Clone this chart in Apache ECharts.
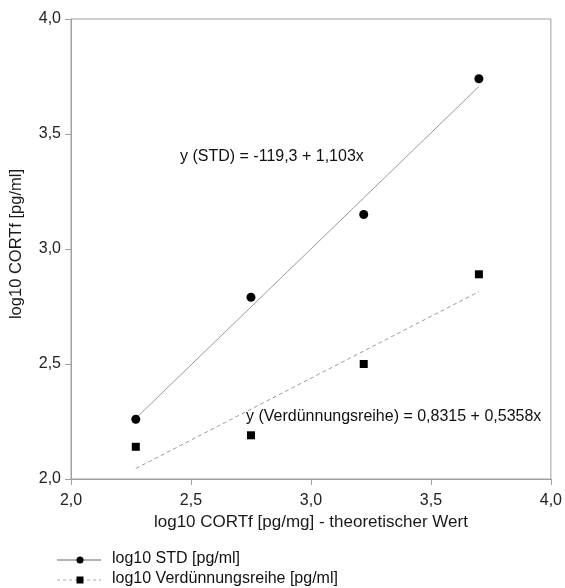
<!DOCTYPE html>
<html><head><meta charset="utf-8">
<script src="https://cdn.jsdelivr.net/npm/echarts@6/dist/echarts.min.js"></script>
<style>html,body{margin:0;padding:0;background:#fff}#c{width:565px;height:588px}</style>
</head><body><div id="c"></div>
<script>
const xValues = [2.27, 2.75, 3.22, 3.70];
const stdValues = [2.26, 2.79, 3.15, 3.74];
const verdValues = [2.14, 2.19, 2.50, 2.89];
const xTicks = [2.0, 2.5, 3.0, 3.5, 4.0];
const yTicks = [2.0, 2.5, 3.0, 3.5, 4.0];
const eqStd = 'y (STD) = -119,3 + 1,103x';
const eqVerd = 'y (Verdünnungsreihe) = 0,8315 + 0,5358x';
const legendNames = ['log10 STD [pg/ml]', 'log10 Verdünnungsreihe [pg/ml]'];

function fit(xs, ys) {
  const n = xs.length;
  const mx = xs.reduce((a, b) => a + b, 0) / n;
  const my = ys.reduce((a, b) => a + b, 0) / n;
  let sxy = 0, sxx = 0;
  for (let i = 0; i < n; i++) { sxy += (xs[i] - mx) * (ys[i] - my); sxx += (xs[i] - mx) ** 2; }
  const b = sxy / sxx, a = my - b * mx;
  const x0 = Math.min(...xs), x1 = Math.max(...xs);
  return [[x0, a + b * x0], [x1, a + b * x1]];
}
const pair = (xs, ys) => xs.map((x, i) => [x, ys[i]]);
const fmt = v => v.toFixed(1).replace('.', ',');
const font = 'Liberation Sans, Arial, sans-serif';

const chart = echarts.init(document.getElementById('c'));
chart.setOption({
  animation: false,
  grid: { left: 70, right: 14, top: 19, bottom: 109, show: true, borderColor: '#a0a0a0', borderWidth: 1 },
  xAxis: {
    type: 'value', min: 2, max: 4, interval: 0.5,
    name: 'log10 CORTf [pg/mg] - theoretischer Wert', nameLocation: 'middle', nameGap: 34,
    nameTextStyle: { fontFamily: font, fontSize: 17, color: '#1a1a1a' },
    axisLine: { show: true, lineStyle: { color: '#a0a0a0' } },
    axisTick: { show: true, length: 6, lineStyle: { color: '#a0a0a0' } },
    axisLabel: { fontFamily: font, fontSize: 16, color: '#222', margin: 14, formatter: fmt },
    splitLine: { show: false }
  },
  yAxis: {
    type: 'value', min: 2, max: 4, interval: 0.5,
    name: 'log10 CORTf [pg/ml]', nameLocation: 'middle', nameGap: 46,
    nameTextStyle: { fontFamily: font, fontSize: 16.5, color: '#1a1a1a', padding: [0, 0, 0, 10] },
    axisLine: { show: true, lineStyle: { color: '#a0a0a0' } },
    axisTick: { show: true, length: 6, lineStyle: { color: '#a0a0a0' } },
    axisLabel: { fontFamily: font, fontSize: 16, color: '#222', margin: 10, formatter: fmt },
    splitLine: { show: false }
  },
  series: [
    { type: 'line', data: fit(xValues, stdValues), symbol: 'none', lineStyle: { color: '#999', width: 1 }, z: 2 },
    { type: 'line', data: fit(xValues, verdValues), symbol: 'none', lineStyle: { color: '#9a9a9a', width: 1, type: [4, 3] }, z: 2 },
    { name: legendNames[0], type: 'scatter', data: pair(xValues, stdValues), symbol: 'circle', symbolSize: 9, itemStyle: { color: '#000', opacity: 1 }, z: 3 },
    { name: legendNames[1], type: 'scatter', data: pair(xValues, verdValues), symbol: 'rect', symbolSize: 8, itemStyle: { color: '#000', opacity: 1 }, z: 3 }
  ],
  graphic: [
    { type: 'text', left: 180, top: 149, style: { text: eqStd, font: '16px ' + font, fill: '#111' } },
    { type: 'text', left: 246, top: 409, style: { text: eqVerd, font: '16px ' + font, fill: '#111' } },
    { type: 'line', shape: { x1: 57, y1: 560, x2: 101, y2: 560 }, style: { stroke: '#666', lineWidth: 1 } },
    { type: 'circle', shape: { cx: 80, cy: 560, r: 3.5 }, style: { fill: '#000' } },
    { type: 'text', left: 112, top: 551, style: { text: legendNames[0], font: '16px ' + font, fill: '#111' } },
    { type: 'line', shape: { x1: 57, y1: 580, x2: 101, y2: 580 }, style: { stroke: '#aaa', lineWidth: 1, lineDash: [3, 3] } },
    { type: 'rect', shape: { x: 76.5, y: 576.5, width: 7, height: 7 }, style: { fill: '#000' } },
    { type: 'text', left: 112, top: 571, style: { text: legendNames[1], font: '16px ' + font, fill: '#111' } }
  ]
});
</script></body></html>
